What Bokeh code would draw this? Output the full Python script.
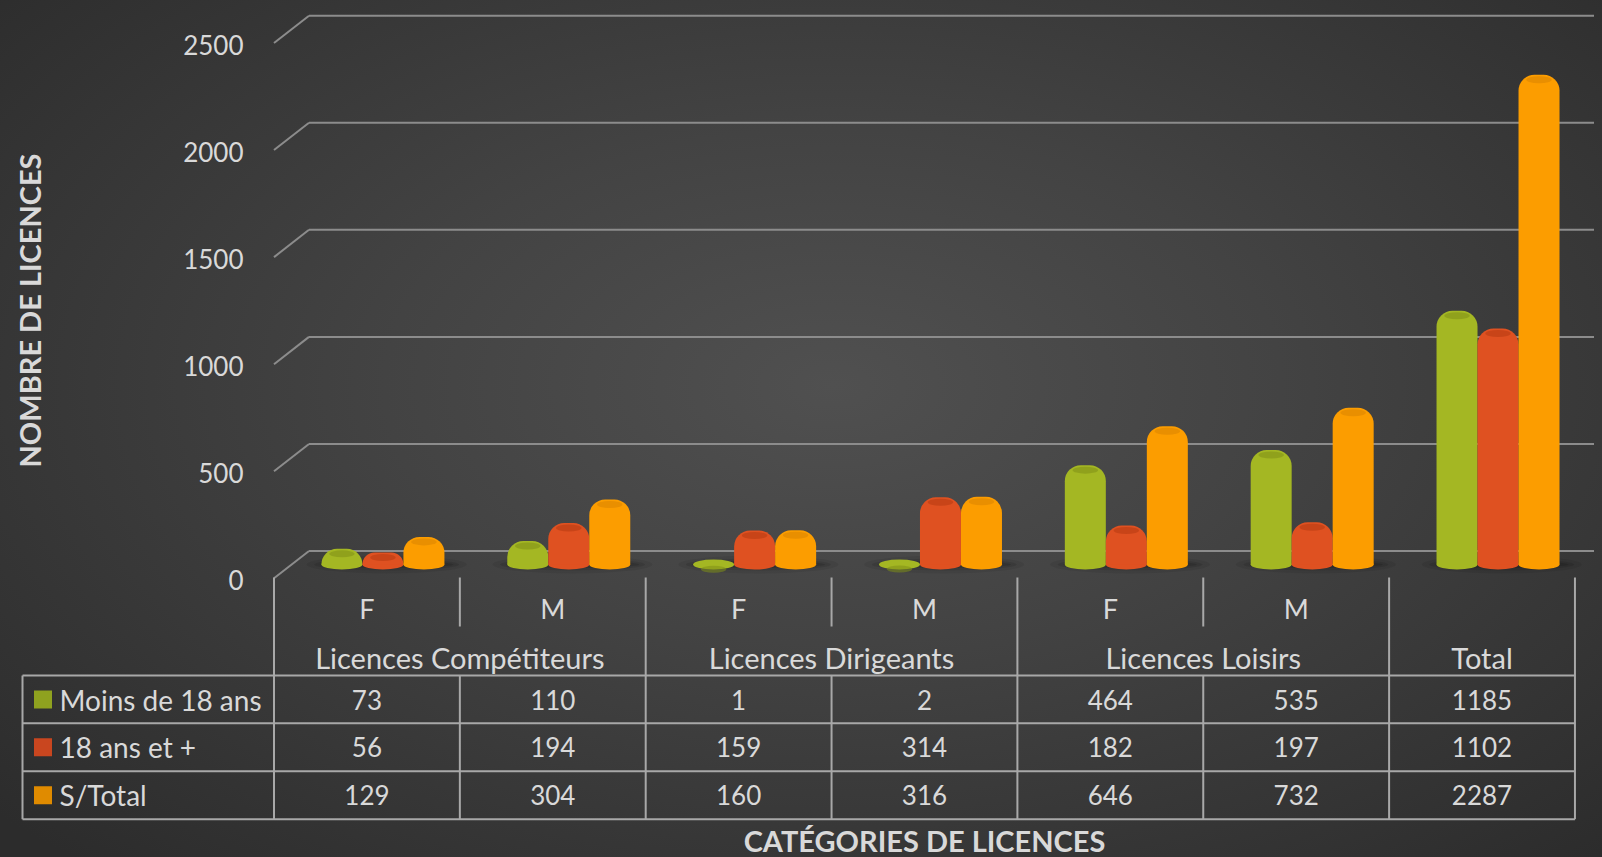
from bokeh.plotting import figure
from bokeh.models import Range1d
from bokeh.core.properties import value
from bokeh.embed import file_html
from bokeh.resources import INLINE

# ---------------- data ----------------
sub_labels = ["F", "M", "F", "M", "F", "M", ""]
group_labels = ["Licences Compétiteurs", "Licences Dirigeants", "Licences Loisirs", "Total"]
group_sizes = [2, 2, 2, 1]
series_names = ["Moins de 18 ans", "18 ans et +", "S/Total"]
moins_18 = [73, 110, 1, 2, 464, 535, 1185]
plus_18 = [56, 194, 159, 314, 182, 197, 1102]
sous_total = [129, 304, 160, 316, 646, 732, 2287]
y_ticks = [0, 500, 1000, 1500, 2000, 2500]
x_title = "CATÉGORIES DE LICENCES"
y_title = "NOMBRE DE LICENCES"

# ---------------- style / geometry ----------------
COLORS = ["#a4b723", "#df5121", "#fc9d00"]
CAP_COLORS = ["#7f8f18", "#b43a12", "#d88400"]
KEY_COLORS = ["#8fa21f", "#c9461f", "#e08b00"]
TEXT = "#d9d9d9"
GRID = "#8c8c8c"
TABLE = "#a8a8a8"
FONT = "Lato"
W, H, M = 1586, 849, 8

COL_LEFT, COL_W = 273.5, 185.85     # page px of category columns
SCALE = 0.21412                     # px per licence
BACK0, BAR0 = 550.5, 564.0          # page y of zero on back wall / bar plane
CAP_DROP = 5.0                      # px: top face of each cylinder below its top
DEPTH = 27.3 / SCALE                # front-to-back depth, in value units
BAR_W = 41.0 / COL_W
BAR_OFF = 16.0 / COL_W
LABEL_X = 59
ROW_Y = [699, 746.7, 794.7]
HLINES = [675, 722.7, 770.7, 818.7]
HEAD_TOP, SUB_BOTTOM = 577, 626
TABLE_LEFT = 22
n = len(sub_labels)
TABLE_RIGHT = COL_LEFT + n * COL_W

p = figure(width=W, height=H,
           x_range=Range1d(M, M + W), y_range=Range1d(M + H, M),
           x_axis_type=None, y_axis_type=None,
           toolbar_location=None, output_backend="svg",
           min_border=0, outline_line_color=None,
           background_fill_alpha=0, border_fill_alpha=0)
p.extra_x_ranges = {"cat": Range1d((M - COL_LEFT) / COL_W, (M + W - COL_LEFT) / COL_W)}
p.extra_y_ranges = {
    "back": Range1d((BACK0 - (M + H)) / SCALE, (BACK0 - M) / SCALE),
    "bar": Range1d((BAR0 - (M + H)) / SCALE, (BAR0 - M) / SCALE),
    "cap": Range1d((BAR0 + CAP_DROP - (M + H)) / SCALE, (BAR0 + CAP_DROP - M) / SCALE),
}

# ---- back wall gridlines + floor diagonals
p.segment(x0=COL_LEFT + 35, y0=y_ticks, x1=1602, y1=y_ticks, y_range_name="back",
          line_color=GRID, line_width=2)
p.segment(x0=COL_LEFT, y0=[t - DEPTH for t in y_ticks], x1=COL_LEFT + 35, y1=y_ticks,
          y_range_name="back", line_color=GRID, line_width=2)
p.text(x=243, y=[t - DEPTH for t in y_ticks], text=[str(t) for t in y_ticks],
       y_range_name="back", text_align="right", text_baseline="middle", y_offset=2,
       text_color=TEXT, text_font=value(FONT), text_font_size="26px")

# ---- floor shadows
centers = [i + 0.5 + BAR_OFF for i in range(n)]
for w_, h_, a_ in [(0.86, 18, 0.07), (0.78, 12, 0.10), (0.72, 7, 0.12)]:
    p.ellipse(x=[c + 0.02 for c in centers], y=0, width=w_, height=h_, height_units="screen",
              x_range_name="cat", y_range_name="bar", fill_color="black", fill_alpha=a_,
              line_color=None)

# ---- bars (rounded cylinders)
for k, (vals, col, cap) in enumerate(zip([moins_18, plus_18, sous_total], COLORS, CAP_COLORS)):
    xs = [c + (k - 1) * BAR_W for c in centers]
    p.ellipse(x=xs, y=0, width=BAR_W, height=10, height_units="screen",
              x_range_name="cat", y_range_name="bar", fill_color=col, line_color=None)
    p.vbar(x=xs, width=BAR_W, bottom=0, top=vals, x_range_name="cat", y_range_name="bar",
           fill_color=col, line_color=None, border_radius=(16, 16, 0, 0))
    p.ellipse(x=xs, y=vals, width=BAR_W * 0.62, height=7, height_units="screen",
              x_range_name="cat", y_range_name="cap", fill_color=cap, fill_alpha=0.55,
              line_color=None)

# ---- data table
group_edges = [0]
for s in group_sizes:
    group_edges.append(group_edges[-1] + s)
sub_edges = [i for i in range(1, n) if i not in group_edges]
p.segment(x0=group_edges, y0=HEAD_TOP, x1=group_edges, y1=HLINES[-1], x_range_name="cat",
          line_color=TABLE, line_width=2)
p.segment(x0=sub_edges, y0=HEAD_TOP, x1=sub_edges, y1=SUB_BOTTOM, x_range_name="cat",
          line_color=TABLE, line_width=2)
p.segment(x0=sub_edges, y0=HLINES[0], x1=sub_edges, y1=HLINES[-1], x_range_name="cat",
          line_color=TABLE, line_width=2)
p.segment(x0=TABLE_LEFT, y0=HLINES, x1=TABLE_RIGHT, y1=HLINES, line_color=TABLE, line_width=2)
p.segment(x0=TABLE_LEFT, y0=HLINES[0], x1=TABLE_LEFT, y1=HLINES[-1], line_color=TABLE, line_width=2)

txt = dict(text_color=TEXT, text_font=value(FONT), text_baseline="middle")
p.text(x=[i + 0.5 for i in range(n)], y=608, text=sub_labels, x_range_name="cat",
       text_align="center", text_font_size="27px", **txt)
gx = [(group_edges[j] + group_edges[j + 1]) / 2 for j in range(len(group_labels))]
p.text(x=gx, y=657, text=group_labels, x_range_name="cat",
       text_align="center", text_font_size="29px", **txt)
for r, vals in enumerate([moins_18, plus_18, sous_total]):
    p.text(x=[i + 0.5 for i in range(n)], y=ROW_Y[r], text=[str(v) for v in vals],
           x_range_name="cat", text_align="center", text_font_size="26px", **txt)
p.rect(x=42.5, y=ROW_Y, width=18, height=18, width_units="screen", height_units="screen",
       fill_color=KEY_COLORS, line_color=None)
p.text(x=LABEL_X, y=ROW_Y, text=series_names, text_align="left", text_font_size="28px", **txt)

# ---- axis titles
p.text(x=(COL_LEFT + TABLE_RIGHT) / 2, y=840, text=[x_title], text_align="center",
       text_font_style="bold", text_font_size="29px", **txt)
p.text(x=29, y=310, text=[y_title], angle=1.5708, text_align="center",
       text_font_style="bold", text_font_size="29px", **txt)

TEMPLATE = """{% block postamble %}<style>
html { background: radial-gradient(ellipse 70% 75% at 52% 45%, #505050 0%, #434343 40%, #2c2c2c 100%) fixed; overflow: hidden; }
html, body { height: auto !important; min-height: 0 !important; }
body { margin: 8px 8px 0 8px !important; padding: 0 !important; background: transparent !important; }
</style>{% endblock %}"""

open("out.html", "w").write(file_html(p, INLINE, template=TEMPLATE))
